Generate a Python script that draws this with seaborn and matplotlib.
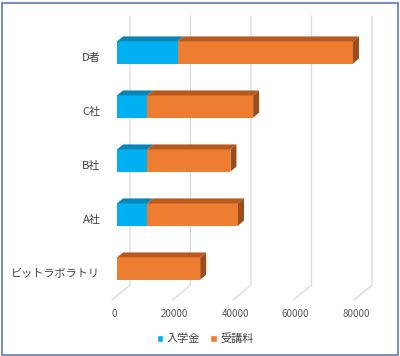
import matplotlib
matplotlib.use('Agg')
import matplotlib.pyplot as plt
import matplotlib.transforms as mtrans
from matplotlib.patches import Polygon, Patch, Rectangle
import seaborn as sns
import pandas as pd

# data
companies = ['D者', 'C社', 'B社', 'A社', 'ビットラボラトリ']
entrance_fee = [20000, 10000, 10000, 10000, 0]
tuition = [58000, 35000, 27500, 30000, 27500]
x_ticks = [0, 20000, 40000, 60000, 80000]
series_names = ['入学金', '受講料']

cyan, cyan_top = '#00B0F0', '#0A84B4'
orange, orange_top, orange_side = '#ED7D31', '#B65A20', '#9C4D1B'
grid_col = '#D9D9D9'

sns.set_style('white')
plt.rcParams['font.family'] = ['Noto Sans CJK JP', 'DejaVu Sans']

W, H = 400, 356
fig = plt.figure(figsize=(W / 100, H / 100), dpi=100)
ax = fig.add_axes([117 / W, 1 - 295.5 / H, 242 / W, 270 / H])

df = pd.DataFrame({'company': companies, 'fee': entrance_fee, 'tuition': tuition})
df['total'] = df['fee'] + df['tuition']

bar_w = 0.41
sns.barplot(data=df, y='company', x='total', color=orange, width=bar_w,
            saturation=1, linewidth=0, ax=ax, zorder=3)
sns.barplot(data=df, y='company', x='fee', color=cyan, width=bar_w,
            saturation=1, linewidth=0, ax=ax, zorder=4)

ax.set_xlim(0, 80000)
ax.set_ylim(len(companies) - 0.5, -0.5)
ax.set_xlabel('')
ax.set_ylabel('')
sns.despine(ax=ax, left=True, bottom=True)
ax.patch.set_alpha(0)

# pixel -> data conversions
px_x = 80000 / 242
px_y = len(companies) / 270

# 3D depth faces
dx, dy = 6 * px_x, -5 * px_y
for i, row in df.iterrows():
    y_top = i - bar_w / 2
    y_bot = i + bar_w / 2
    segs = []
    if row['fee'] > 0:
        segs.append((0, row['fee'], cyan_top))
    segs.append((row['fee'], row['total'], orange_top))
    for x0, x1, c in segs:
        ax.add_patch(Polygon([(x0, y_top), (x1, y_top), (x1 + dx, y_top + dy), (x0 + dx, y_top + dy)],
                             closed=True, facecolor=c, edgecolor='none', zorder=5, clip_on=False))
    t = row['total']
    ax.add_patch(Polygon([(t, y_top), (t + dx, y_top + dy), (t + dx, y_bot + dy), (t, y_bot)],
                         closed=True, facecolor=orange_side, edgecolor='none', zorder=5, clip_on=False))

# back wall and floor grid lines
trans = mtrans.blended_transform_factory(ax.transData, fig.transFigure)
for v in x_ticks:
    xb = v + 13 * px_x
    xf = v - 5 * px_x
    ax.plot([xb, xb, xf], [1 - 16 / H, 1 - 285 / H, 1 - 300 / H], color=grid_col,
            lw=0.9, transform=trans, clip_on=False, zorder=1)

ax.set_xticks(x_ticks)
ax.set_xticklabels([str(v) for v in x_ticks])
ax.tick_params(axis='x', length=0, pad=10, labelsize=7, labelcolor='#595959')
ax.tick_params(axis='y', length=0, pad=12, labelsize=8, labelcolor='#404040')
for lab in ax.get_xticklabels():
    lab.set_transform(lab.get_transform() + mtrans.ScaledTranslation(-3 / 100, 0, fig.dpi_scale_trans))
for lab in ax.get_yticklabels():
    lab.set_transform(lab.get_transform() + mtrans.ScaledTranslation(0, -4.5 / 100, fig.dpi_scale_trans))

handles = [Patch(facecolor=cyan), Patch(facecolor=orange)]
fig.legend(handles, series_names, loc='center', bbox_to_anchor=(205 / W, 1 - 339 / H), ncol=2,
           frameon=False, fontsize=8, handlelength=0.6, handleheight=0.6, handletextpad=0.3,
           columnspacing=0.9, labelcolor='#404040')

fig.patches.append(Rectangle((1.5 / W, 1.5 / H), 396 / W, 352 / H, transform=fig.transFigure,
                             fill=False, edgecolor='#5B7BB0', lw=1.2))

fig.savefig('out.png', dpi=100)
